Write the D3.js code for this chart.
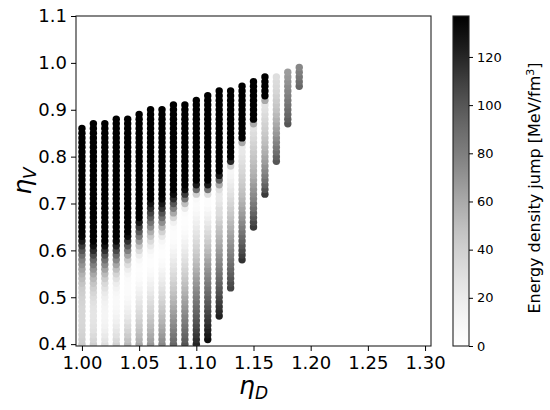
<!DOCTYPE html>
<html>
<head>
<meta charset="utf-8">
<script src="https://cdn.jsdelivr.net/npm/d3@7"></script>
<style>
  body { margin: 0; background: #fff; }
  text { font-family: "DejaVu Sans", sans-serif; fill: #000; }
</style>
</head>
<body>
<div id="chart"></div>
<script>
// Data
// ------------------------------------------------------------------

// one column of dots per eta_D value
const etaD = [1.00, 1.01, 1.02, 1.03, 1.04, 1.05, 1.06, 1.07, 1.08, 1.09,
              1.10, 1.11, 1.12, 1.13, 1.14, 1.15, 1.16, 1.17, 1.18, 1.19];

// lowest eta_V of each column (dots are every 0.01 upward from here)
const etaVStart = [0.40, 0.40, 0.40, 0.40, 0.40, 0.40, 0.40, 0.40, 0.40, 0.40,
                   0.40, 0.41, 0.46, 0.52, 0.58, 0.65, 0.72, 0.79, 0.87, 0.95];
const etaVStep = 0.01;

// energy density jump [MeV/fm^3], bottom to top, one value per dot
const jump = [
  [42,40,38,37,36,35,35,35,36,37, 38,40,42,46,51,56,63,70,78,88, 100,112,125,136,
   140,140,140,140,140, 140,140,140,140,140, 140,140,140,140,140, 140,140,140,140,140, 140,140,140],
  [40,36,32,29,27,26,25,25,26,28, 31,35,40,46,53,61,70,80,92,105, 118,130,140,
   140,140,140,140,140, 140,140,140,140,140, 140,140,140,140,140, 140,140,140,140,140, 140,140,140,140,140],
  [30,25,21,17,14,12,11,11,12,14, 17,21,27,34,42,52,63,75,88,102, 116,129,140,
   140,140,140,140,140, 140,140,140,140,140, 140,140,140,140,140, 140,140,140,140,140, 140,140,140,140,140],
  [38,33,28,24,20,16,13,10,8,7, 7,9,13,19,27,37,49,62,76,91, 106,120,133,140,
   140,140,140,140,140, 140,140,140,140,140, 140,140,140,140,140, 140,140,140,140,140, 140,140,140,140,140],
  [52,47,42,37,32,27,22,18,14,10, 7,5,4,4,6,10,18,30,45,62, 80,98,116,132,140,
   140,140,140,140,140, 140,140,140,140,140, 140,140,140,140,140, 140,140,140,140,140, 140,140,140,140],
  [60,56,52,48,44,40,36,32,28,24, 20,16,12,8,5,3,2,3,8,18, 32,48,65,82,98,112,126,138,140,
   140,140,140,140,140, 140,140,140,140,140, 140,140,140,140,140, 140,140,140,140,140, 140],
  [67,63,59,55,51,47,43,39,35,31, 27,23,19,15,11,7,4,2,2,4, 10,20,32,45,58,72,85,97,108,118, 128,137,140,
   140,140,140,140,140, 140,140,140,140,140, 140,140,140,140,140, 140,140,140],
  [75,71,67,63,59,55,51,47,43,39, 35,31,27,23,19,15,11,7,4,2, 2,4,10,22,38,55,72,88,102,115, 126,135,140,
   140,140,140,140,140, 140,140,140,140,140, 140,140,140,140,140, 140,140,140],
  [92,88,84,80,76,72,68,64,60,56, 52,48,44,40,36,32,28,24,20,16, 12,8,5,3,3,6,15,35,60,80, 100,118,132,140,
   140,140,140,140,140, 140,140,140,140,140, 140,140,140,140,140, 140,140,140],
  [101,97,93,89,85,81,77,73,69,65, 61,57,53,49,45,41,37,33,29,25, 21,17,13,9,6,3,2,2,5,20, 50,85,112,132,140,
   140,140,140,140,140, 140,140,140,140,140, 140,140,140,140,140, 140,140],
  [121,117,113,109,105,101,97,93,89,85, 81,77,73,69,65,61,57,53,49,45, 41,37,33,29,25,21,17,13,9,6, 4,8,40,90,125,140,
   140,140,140,140,140, 140,140,140,140,140, 140,140,140,140,140, 140,140],
  [130,126,122,118,114,110,106,102,98, 94,90,86,82,78,74,70,66,62,57, 52,47,42,37,32,27,22,17,12,7, 3,3,30,85,125,140,
   140,140,140,140,140, 140,140,140,140,140, 140,140,140,140,140, 140,140,140],
  [122,118,114,110, 106,102,98,94,90,86,82,78,74,70, 66,62,58,54,50,46,41,36,31,30, 25,22,22,30,60,95,125,140,
   140,140,140,140,140, 140,140,140,140,140, 140,140,140,140,140, 140,140],
  [108,104,100,96,92,88,84,80, 76,72,68,64,60,56,52,48,44,40, 36,32,28,24,20,16,12,10,40,120, 140,
   140,140,140,140,140, 140,140,140,140,140, 140,140,140,140],
  [115,110, 105,100,95,90,85,80,75,70,66,62, 58,54,50,47,44,41,38,35,32,29, 26,23,22,60,140,
   140,140,140,140,140, 140,140,140,140,140, 140],
  [112,106,100,94,88, 83,78,74,70,66,62,58,55,52,49, 46,43,40,37,34,31,28,60,140,
   140,140,140,140,140, 140,140,140],
  [112,102,94,87,81,76,71,66, 62,58,54,50,47,44,41,38,35,32, 29,27,60,140,
   140,140,140,140],
  [100, 94,88,83,78,73,68,64,60,56,52, 48,45,42,39,36,34,32,30],
  [100,96,92, 89,86,83,80,77,74,71,68,66],
  [92,88,84,80,76]
];

// axes
const xTicks = [1.00, 1.05, 1.10, 1.15, 1.20, 1.25, 1.30];
const yTicks = [0.4, 0.5, 0.6, 0.7, 0.8, 0.9, 1.0, 1.1];
const cbTicks = [0, 20, 40, 60, 80, 100, 120];
const xDomain = [0.9948, 1.3052];
const yDomain = [0.396, 1.1];
const cbMax = 137;


// Layout
// ------------------------------------------------------------------
const W = 550, H = 410;
const plot = {left: 76, right: 431, top: 16, bottom: 346};
const cbar = {left: 453, right: 469, top: 16, bottom: 346};
const dotR = 3.7;

const svg = d3.select("#chart").append("svg")
    .attr("width", W)
    .attr("height", H);

const x = d3.scaleLinear().domain(xDomain).range([plot.left, plot.right]);
const y = d3.scaleLinear().domain(yDomain).range([plot.bottom, plot.top]);
const colour = d3.scaleSequential(d3.interpolateGreys).domain([0, cbMax]).clamp(true);

// flatten columns into dots
let dots = [];
etaD.forEach((d, i) => {
    jump[i].forEach((v, k) => {
        dots.push({etaD: d, etaV: etaVStart[i] + k * etaVStep, value: v});
    });
});

svg.append("clipPath").attr("id", "plot-clip")
    .append("rect")
    .attr("x", plot.left).attr("y", plot.top)
    .attr("width", plot.right - plot.left).attr("height", plot.bottom - plot.top);

svg.append("g")
    .attr("clip-path", "url(#plot-clip)")
    .selectAll("circle")
    .data(dots)
    .join("circle")
    .attr("cx", d => x(d.etaD))
    .attr("cy", d => y(d.etaV))
    .attr("r", dotR)
    .style("fill", d => colour(d.value));

// frame
svg.append("rect")
    .attr("x", plot.left).attr("y", plot.top)
    .attr("width", plot.right - plot.left).attr("height", plot.bottom - plot.top)
    .style("fill", "none").style("stroke", "#222").style("stroke-width", 1.1);

// x axis
const xAxis = svg.append("g")
    .attr("transform", "translate(0," + plot.bottom + ")")
    .call(d3.axisBottom(x).tickValues(xTicks).tickFormat(d3.format(".2f")).tickSize(5).tickPadding(5));
xAxis.select(".domain").remove();
xAxis.selectAll("text").style("font-size", "18px").attr("font-family", null);

// y axis
const yAxis = svg.append("g")
    .attr("transform", "translate(" + plot.left + ",0)")
    .call(d3.axisLeft(y).tickValues(yTicks).tickFormat(d3.format(".1f")).tickSize(5).tickPadding(4));
yAxis.select(".domain").remove();
yAxis.selectAll("text").style("font-size", "18px").attr("font-family", null);

// axis labels
const xLabel = svg.append("text")
    .attr("x", (plot.left + plot.right) / 2)
    .attr("y", 394)
    .attr("text-anchor", "middle")
    .style("font-size", "25px")
    .style("font-style", "italic");
xLabel.append("tspan").text("η");
xLabel.append("tspan").attr("dy", 5).style("font-size", "17px").text("D");

const yLabel = svg.append("text")
    .attr("transform", "translate(31,181) rotate(-90)")
    .attr("text-anchor", "middle")
    .style("font-size", "25px")
    .style("font-style", "italic");
yLabel.append("tspan").text("η");
yLabel.append("tspan").attr("dy", 5).style("font-size", "17px").text("V");

// Colour bar
// ------------------------------------------------------------------
const cb = d3.scaleLinear().domain([0, cbMax]).range([cbar.bottom, cbar.top]);

const grad = svg.append("defs").append("linearGradient")
    .attr("id", "cb-grad")
    .attr("x1", 0).attr("y1", 1).attr("x2", 0).attr("y2", 0);
grad.selectAll("stop")
    .data(d3.range(0, 1.0001, 0.05))
    .join("stop")
    .attr("offset", d => d)
    .attr("stop-color", d => colour(d * cbMax));

svg.append("rect")
    .attr("x", cbar.left).attr("y", cbar.top)
    .attr("width", cbar.right - cbar.left).attr("height", cbar.bottom - cbar.top)
    .style("fill", "url(#cb-grad)")
    .style("stroke", "#222").style("stroke-width", 1.1);

const cbAxis = svg.append("g")
    .attr("transform", "translate(" + cbar.right + ",0)")
    .call(d3.axisRight(cb).tickValues(cbTicks).tickSize(4).tickPadding(4));
cbAxis.select(".domain").remove();
cbAxis.selectAll("text").style("font-size", "13px").attr("font-family", null);

const cbLabel = svg.append("text")
    .attr("transform", "translate(540,188) rotate(-90)")
    .attr("text-anchor", "middle")
    .style("font-size", "16px");
cbLabel.append("tspan").text("Energy density jump [MeV/fm");
cbLabel.append("tspan").attr("dy", -6).style("font-size", "11px").text("3");
cbLabel.append("tspan").attr("dy", 6).text("]");
</script>
</body>
</html>
